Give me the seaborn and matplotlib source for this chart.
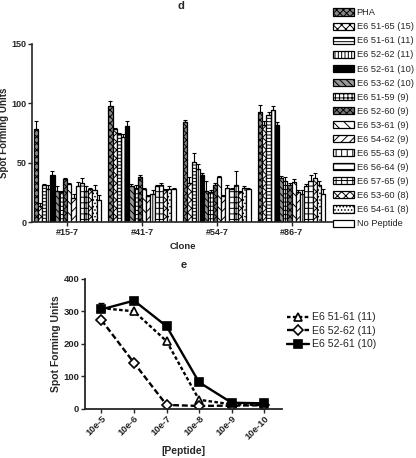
import matplotlib
matplotlib.use("Agg")
import matplotlib.pyplot as plt
import seaborn as sns
import pandas as pd
import numpy as np

sns.set_style("ticks")
plt.rcParams['font.family'] = ['Liberation Sans', 'DejaVu Sans']
plt.rcParams['hatch.linewidth'] = 0.7

clones = ["#15-7", "#41-7", "#54-7", "#86-7"]
peptides = ["PHA", "E6 51-65 (15)", "E6 51-61 (11)", "E6 52-62 (11)", "E6 52-61 (10)",
            "E6 53-62 (10)", "E6 51-59 (9)", "E6 52-60 (9)", "E6 53-61 (9)", "E6 54-62 (9)",
            "E6 55-63 (9)", "E6 56-64 (9)", "E6 57-65 (9)", "E6 53-60 (8)", "E6 54-61 (8)",
            "No Peptide"]
# values per clone, in peptide order
vals_15 = [78, 14, 31, 28, 40, 26, 25, 36, 32, 20, 30, 33, 26, 28, 27, 19]
vals_41 = [98, 78, 74, 72, 81, 30, 29, 38, 28, 22, 24, 30, 31, 27, 28, 28]
vals_54 = [84, 33, 51, 45, 40, 26, 25, 31, 38, 22, 29, 28, 31, 25, 29, 28]
vals_86 = [93, 82, 90, 94, 82, 37, 35, 31, 34, 25, 24, 30, 35, 37, 31, 24]
err_15 = [7, 2, 1, 3, 3, 4, 1, 1, 1, 4, 4, 4, 4, 1, 4, 4]
err_41 = [4, 1, 1, 2, 4, 2, 2, 2, 1, 1, 3, 1, 2, 1, 2, 1]
err_54 = [2, 5, 7, 4, 1, 9, 2, 2, 1, 1, 2, 1, 12, 1, 1, 1]
err_86 = [6, 3, 3, 4, 2, 2, 3, 2, 2, 2, 3, 2, 5, 4, 4, 4]

conc = ["10e-5", "10e-6", "10e-7", "10e-8", "10e-9", "10e-10"]
s_5161 = [310, 300, 208, 27, 13, 11]
s_5262 = [273, 141, 11, 8, 9, 10]
s_5261 = [306, 333, 254, 81, 18, 16]
err_5261 = [20, 4, 4, 3, 2, 2]

hatches = ['xxxxx', 'xxxx', '-----', '|||||', '', '\\\\\\\\\\', '++++', 'xxxxx',
           '\\\\\\', '////', '|||', '---', '+++', 'xxxx', '.....', '']
faces = ['#888888', 'white', 'white', 'white', 'black', '#999999', 'white', '#777777',
         'white', 'white', 'white', 'white', 'white', 'white', 'white', 'white']

rows = []
for c, vs in zip(clones, [vals_15, vals_41, vals_54, vals_86]):
    for p, v in zip(peptides, vs):
        rows.append((c, p, v))
df = pd.DataFrame(rows, columns=["Clone", "Peptide", "SFU"])
errs = dict(zip(clones, [err_15, err_41, err_54, err_86]))

fig = plt.figure(figsize=(4.16, 4.58), dpi=100)
ax = fig.add_axes([0.077, 0.515, 0.723, 0.389])
sns.barplot(data=df, x="Clone", y="SFU", hue="Peptide", order=clones, hue_order=peptides,
            width=0.9, ax=ax, legend=False, errorbar=None)
bar_conts = list(ax.containers)
for i, cont in enumerate(bar_conts):
    for j, bar in enumerate(cont.patches):
        bar.set_facecolor(faces[i])
        bar.set_hatch(hatches[i])
        bar.set_edgecolor('black')
        bar.set_linewidth(0.9)
    xs = [b.get_x() + b.get_width() / 2 for b in cont.patches]
    ys = [b.get_height() for b in cont.patches]
    up = [errs[c][i] for c in clones]
    ax.errorbar(xs, ys, yerr=[np.zeros(len(up)), up], fmt='none', ecolor='black',
                elinewidth=0.8, capsize=1.5, capthick=0.8)

ax.set_xlim(-0.47, 3.55)
ax.set_ylim(0, 150)
ax.set_yticks([0, 50, 100, 150])
sns.despine(ax=ax)
for s in ['left', 'bottom']:
    ax.spines[s].set_linewidth(1.2)
ax.tick_params(labelsize=6.5, width=1, length=3, pad=1)
for t in ax.get_xticklabels() + ax.get_yticklabels():
    t.set_fontweight('bold')
ax.set_xlabel("Clone", fontsize=6.8, fontweight='bold', labelpad=4)
ax.set_ylabel("Spot Forming Units", fontsize=7, fontweight='bold', labelpad=2)

handles = [cont.patches[0] for cont in bar_conts]
fig.legend(handles, peptides, loc='upper left', bbox_to_anchor=(0.800, 0.982),
           frameon=False, fontsize=6.7, handlelength=2.3, handleheight=0.8,
           labelspacing=0.545, handletextpad=0.25, borderaxespad=0, borderpad=0)

fig.text(0.436, 0.998, "d", fontsize=8, fontweight='bold', ha='center', va='top')

# bottom panel
ax2 = fig.add_axes([0.204, 0.108, 0.474, 0.283])
df2 = pd.DataFrame({"conc": conc * 3,
                    "SFU": s_5161 + s_5262 + s_5261,
                    "series": ["E6 51-61 (11)"] * 6 + ["E6 52-62 (11)"] * 6 + ["E6 52-61 (10)"] * 6})
specs = {"E6 51-61 (11)": ('^', (0, (1.5, 1.0))),
         "E6 52-62 (11)": ('D', (0, (2.5, 1.2))),
         "E6 52-61 (10)": ('s', '-')}
for name, (mk, ls) in specs.items():
    sub = df2[df2.series == name]
    sns.lineplot(data=sub, x="conc", y="SFU", ax=ax2, color='black', marker=mk,
                 linestyle=ls, linewidth=1.7, markersize=6 if mk != 'D' else 5,
                 markeredgewidth=1.2, sort=False, label=name,
                 markerfacecolor='black' if mk == 's' else 'white', markeredgecolor='black')
ax2.errorbar(range(len(conc)), s_5261, yerr=[np.zeros(6), err_5261], fmt='none',
             ecolor='black', elinewidth=1, capsize=2.5, capthick=1)
ax2.set_xlim(-0.51, 5.55)
ax2.set_ylim(0, 400)
ax2.set_yticks([0, 100, 200, 300, 400])
sns.despine(ax=ax2)
for s in ['left', 'bottom']:
    ax2.spines[s].set_linewidth(1.3)
ax2.tick_params(labelsize=6.8, width=1, length=3, pad=1)
for t in ax2.get_xticklabels():
    t.set_rotation(45)
    t.set_ha('right')
    t.set_rotation_mode('anchor')
for t in ax2.get_xticklabels() + ax2.get_yticklabels():
    t.set_fontweight('bold')
ax2.set_xlabel("[Peptide]", fontsize=7.4, fontweight='bold', labelpad=3)
ax2.set_ylabel("Spot Forming Units", fontsize=7.5, fontweight='bold', labelpad=2)
ax2.set_title("e", fontsize=8, fontweight='bold', pad=8)
ax2.legend(loc='upper left', bbox_to_anchor=(0.69, 0.318), bbox_transform=fig.transFigure,
           frameon=False, fontsize=7.6, handlelength=2.1, handletextpad=0.25,
           labelspacing=0.33, borderaxespad=0, borderpad=0)

fig.savefig("out.png", dpi=100)
